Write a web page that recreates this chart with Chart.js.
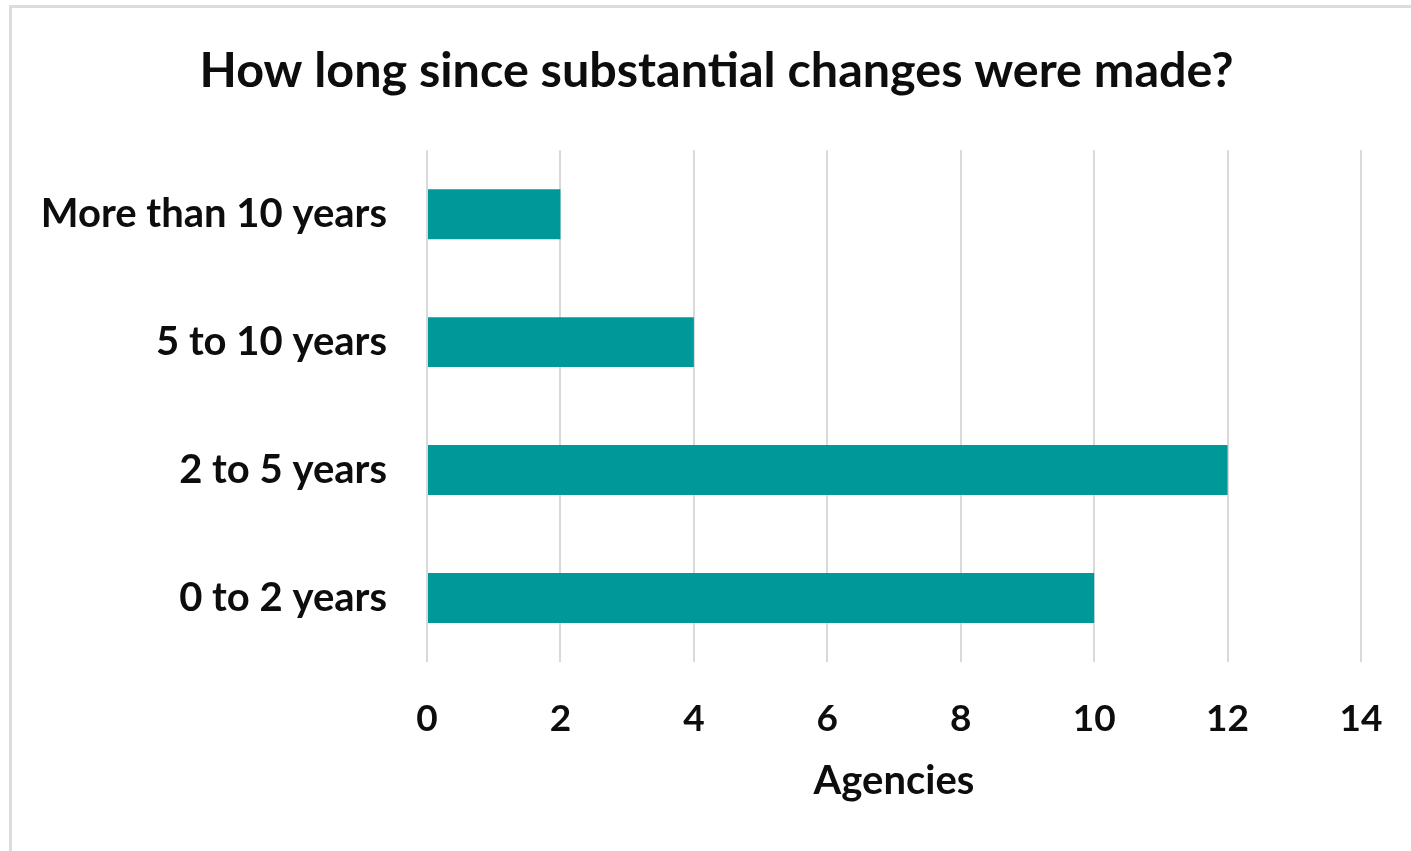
<!DOCTYPE html>
<html>
<head>
<meta charset="utf-8">
<script src="https://cdn.jsdelivr.net/npm/chart.js@4"></script>
<style>
  html, body { margin: 0; padding: 0; background: #ffffff; overflow: hidden; }
  #frame {
    position: absolute; left: 9px; top: 5px; width: 1500px; height: 900px;
    border-top: 3px solid #dcdcdc; border-left: 3px solid #dcdcdc;
  }
  #wrap { position: absolute; left: 0; top: 0; width: 1411px; height: 851px; }
</style>
</head>
<body>
<div id="frame"></div>
<div id="wrap"><canvas id="chart" width="1411" height="851"></canvas></div>
<script>
// Survey results: time since agencies last made substantial changes
const categories = ['More than 10 years', '5 to 10 years', '2 to 5 years', '0 to 2 years'];
const agencyCounts = [2, 4, 12, 10];
const xTicks = [0, 2, 4, 6, 8, 10, 12, 14];

const FONT = 'Lato, "Open Sans", sans-serif';
const INK = '#0d0d0d';
const TEAL = '#009999';

// Centre the title over the whole frame rather than the padded layout box
const titleShift = {
  id: 'titleShift',
  afterLayout(chart) {
    const t = chart.titleBlock;
    if (t) { t.left += 36; t.right += 36; }
  }
};

new Chart(document.getElementById('chart'), {
  type: 'bar',
  data: {
    labels: categories,
    datasets: [{
      data: agencyCounts,
      backgroundColor: TEAL,
      borderWidth: 0,
      barPercentage: 0.39,
      categoryPercentage: 1.0
    }]
  },
  plugins: [titleShift],
  options: {
    indexAxis: 'y',
    responsive: false,
    animation: false,
    devicePixelRatio: 1,
    layout: { padding: { left: 0, right: 50, top: 0, bottom: 0 } },
    plugins: {
      legend: { display: false },
      tooltip: { enabled: false },
      title: {
        display: true,
        text: 'How long since substantial changes were made?',
        color: INK,
        font: { family: FONT, size: 48.5, weight: 'bold', lineHeight: 1.2 },
        padding: { top: 42, bottom: 50 }
      }
    },
    scales: {
      x: {
        min: 0,
        max: 14,
        afterBuildTicks: (scale) => { scale.ticks = xTicks.map(v => ({ value: v })); },
        afterFit: (scale) => {
          scale.height = 189;
          scale.paddingLeft = 0;
          scale.paddingRight = 0;
        },
        border: { display: false },
        grid: { color: '#d9d9d9', lineWidth: 2, drawTicks: false },
        ticks: {
          color: INK,
          padding: 35,
          font: { family: FONT, size: 37, weight: 'bold', lineHeight: 1.2 }
        },
        title: {
          display: true,
          text: 'Agencies',
          color: INK,
          font: { family: FONT, size: 40, weight: 'bold', lineHeight: 1.2 },
          padding: { top: 0, bottom: 46 }
        }
      },
      y: {
        afterFit: (scale) => { scale.width = 427; },
        border: { display: false },
        grid: { display: false, drawTicks: false },
        ticks: {
          color: INK,
          padding: 40,
          font: { family: FONT, size: 40, weight: 'bold', lineHeight: 1.2 }
        }
      }
    }
  }
});
</script>
</body>
</html>
